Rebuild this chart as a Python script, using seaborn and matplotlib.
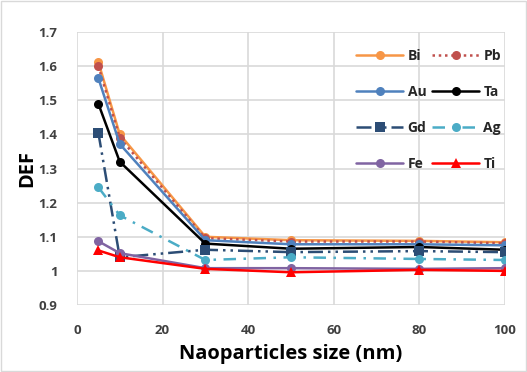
import pandas as pd
import matplotlib
matplotlib.use("Agg")
import matplotlib.pyplot as plt
import seaborn as sns

# nanoparticle sizes (nm)
sizes = [5, 10, 30, 50, 80, 100]

# DEF values
bi = [1.612, 1.400, 1.100, 1.090, 1.088, 1.084]
pb = [1.600, 1.390, 1.096, 1.086, 1.086, 1.081]
au = [1.565, 1.372, 1.090, 1.078, 1.078, 1.075]
ta = [1.490, 1.320, 1.080, 1.065, 1.070, 1.062]
gd = [1.405, 1.040, 1.062, 1.055, 1.058, 1.055]
ag = [1.245, 1.163, 1.032, 1.040, 1.035, 1.032]
fe = [1.087, 1.052, 1.008, 1.008, 1.006, 1.008]
ti = [1.060, 1.040, 1.006, 0.996, 1.003, 1.000]

names = ['Bi', 'Pb', 'Au', 'Ta', 'Gd', 'Ag', 'Fe', 'Ti']
series = [bi, pb, au, ta, gd, ag, fe, ti]

colors = {'Bi': '#F79646', 'Pb': '#C0504D', 'Au': '#4F81BD', 'Ta': '#000000',
          'Gd': '#2C4D75', 'Ag': '#4BACC6', 'Fe': '#8064A2', 'Ti': '#FF0000'}
markers = {'Bi': 'o', 'Pb': 'o', 'Au': 'o', 'Ta': 'o',
           'Gd': 's', 'Ag': 'o', 'Fe': 'o', 'Ti': '^'}
styles = {'Bi': '-', 'Pb': (0, (1, 1.5)), 'Au': '-', 'Ta': '-',
          'Gd': (0, (6, 2, 1, 2, 1, 2)), 'Ag': (0, (5, 3, 1, 3)), 'Fe': '-', 'Ti': '-'}

df = pd.DataFrame({'size': sizes * len(names),
                   'DEF': [v for s in series for v in s],
                   'metal': [n for n in names for _ in sizes]})

sns.set_theme(style="whitegrid")
plt.rcParams['font.family'] = ['Open Sans', 'DejaVu Sans']

fig = plt.figure(figsize=(5.27, 3.72), dpi=100)
ax = fig.add_axes([0.146, 0.180, 0.812, 0.734])

for n in names:
    sub = df[df['metal'] == n]
    sns.lineplot(data=sub, x='size', y='DEF', ax=ax, color=colors[n],
                 marker=markers[n], markersize=6.5, markeredgewidth=0,
                 linestyle=styles[n], linewidth=1.8, label=n)

h, l = ax.get_legend_handles_labels()
hd = dict(zip(l, h))
order = ['Bi', 'Au', 'Gd', 'Fe', 'Pb', 'Ta', 'Ag', 'Ti']
leg = ax.legend([hd[o] for o in order], order, ncol=2, loc='upper right',
                frameon=False, labelspacing=1.6, handlelength=3.4,
                columnspacing=0.4, handletextpad=0.3,
                bbox_to_anchor=(1.02, 0.985), prop={'weight': 'bold', 'size': 10})
for t in leg.get_texts():
    t.set_color('#262626')

ax.set_xlim(0, 100)
ax.set_ylim(0.9, 1.7)
ax.set_xticks([0, 20, 40, 60, 80, 100])
ax.set_yticks([0.9, 1.0, 1.1, 1.2, 1.3, 1.4, 1.5, 1.6, 1.7])
ax.set_yticklabels(['0.9', '1', '1.1', '1.2', '1.3', '1.4', '1.5', '1.6', '1.7'])
ax.tick_params(axis='y', labelsize=9.5, pad=8, labelcolor='#404040')
ax.tick_params(axis='x', labelsize=9.5, pad=8, labelcolor='#404040')
for t in ax.get_xticklabels() + ax.get_yticklabels():
    t.set_fontweight('bold')
ax.grid(True, color='#D9D9D9', linewidth=1.2)
for s in ax.spines.values():
    s.set_visible(False)
ax.set_xlabel('Naoparticles size (nm)', fontsize=14.5, fontweight='bold', labelpad=5, color='black')
ax.set_ylabel('DEF', fontsize=14.5, fontweight='bold', labelpad=1, color='black')

fig.patches.append(plt.Rectangle((0.002, 0.002), 0.996, 0.996, transform=fig.transFigure,
                                 fill=False, edgecolor='#D9D9D9', linewidth=1))

fig.savefig('out.png', dpi=100)
